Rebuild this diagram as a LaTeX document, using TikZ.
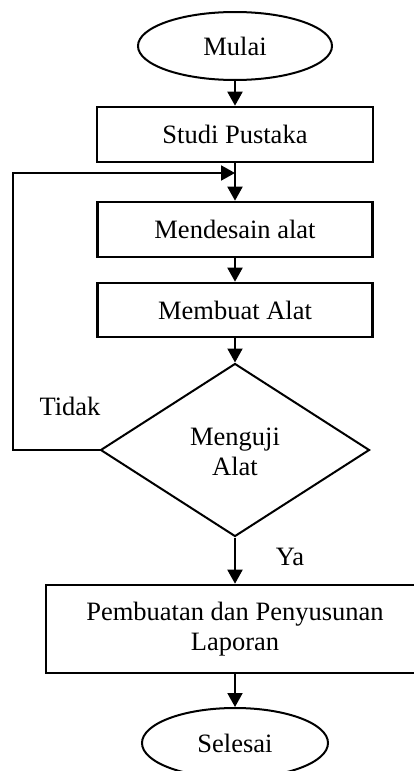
\documentclass[tikz,border=0pt]{standalone}
\usepackage{fontspec}
\setmainfont{Liberation Serif}
\usetikzlibrary{shapes.geometric,arrows.meta}
\begin{document}
\begin{tikzpicture}[x=1pt,y=-1pt,
  every node/.style={font=\fontsize{26.5}{30}\selectfont, align=center, inner sep=0pt},
  term/.style={draw, ellipse, line width=2pt},
  proc/.style={draw, rectangle, line width=2.6pt},
  dec/.style={draw, diamond, line width=2pt},
  arr/.style={line width=2pt, -{Triangle[width=15pt,length=14pt]}},
  ln/.style={line width=2pt}]
\useasboundingbox (0,0) rectangle (414,771);
\node[term, minimum width=194pt, minimum height=68pt] (start) at (235,46) {Mulai};
\node[proc, minimum width=276pt, minimum height=55pt] (studi) at (235,134.5) {Studi Pustaka};
\node[proc, minimum width=275pt, minimum height=55pt] (desain) at (235,229.5) {Mendesain alat};
\node[proc, minimum width=275pt, minimum height=54pt] (buat) at (235,310) {Membuat Alat};
\node[dec, minimum width=269pt, minimum height=173pt] (uji) at (235,450) {};
\node (ujitxt) at (235,452) {Menguji\\Alat};
\node[proc, minimum width=378pt, minimum height=88pt] (lap) at (235,629) {Pembuatan dan Penyusunan\\Laporan};
\node[term, minimum width=186pt, minimum height=70pt] (end) at (235,743) {Selesai};
\node (tidak) at (70,406) {Tidak};
\node (ya) at (290,557) {Ya};
\coordinate (j) at (235,173);
\coordinate (fb) at (13,173);
\draw[arr] (start) -- (studi);
\draw[arr] (studi) -- (desain);
\draw[arr] (desain) -- (buat);
\draw[arr] (buat) -- (uji);
\draw[arr] (uji) -- (lap);
\draw[arr] (lap) -- (end);
\draw[arr] (uji.west) -| (fb) -- (j);
\end{tikzpicture}
\end{document}
